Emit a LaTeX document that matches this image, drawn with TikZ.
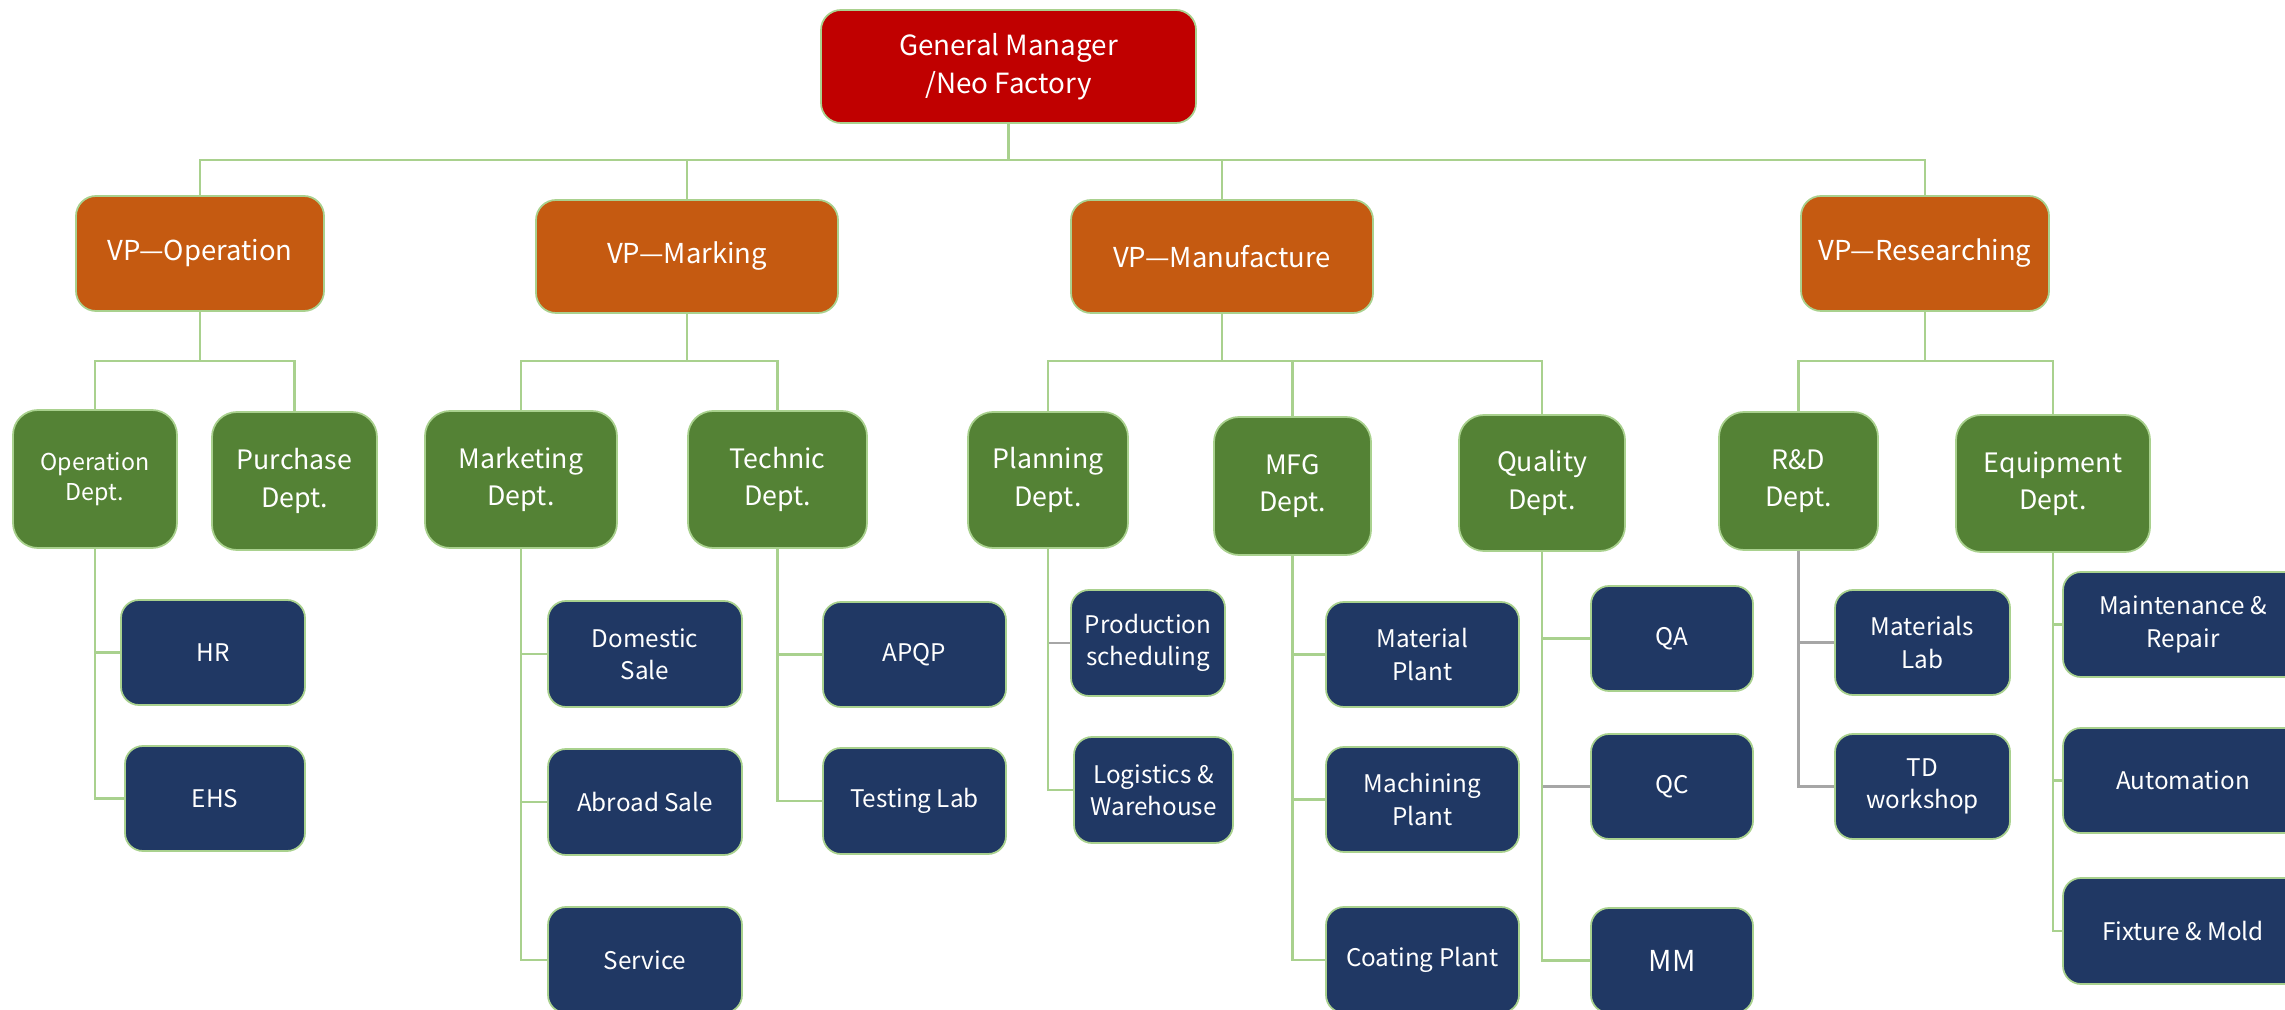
\documentclass[tikz,border=0pt]{standalone}
\usepackage{fontspec}
\setmainfont{Noto Sans CJK KR}
\definecolor{gmred}{HTML}{C00000}
\definecolor{vporange}{HTML}{C55A11}
\definecolor{deptgreen}{HTML}{548235}
\definecolor{leafnavy}{HTML}{203864}
\definecolor{linegreen}{HTML}{A9D18E}
\definecolor{linegray}{HTML}{A6A6A6}
\tikzset{
 box/.style={draw=linegreen, line width=0.5pt, text=white, align=center, inner sep=0pt, rounded corners=0.2cm},
 gmbox/.style={box, fill=gmred, font=\fontsize{7.9}{10.8}\selectfont},
 vpbox/.style={box, fill=vporange, font=\fontsize{7.8}{10.8}\selectfont},
 deptbox/.style={box, fill=deptgreen, rounded corners=0.25cm, font=\fontsize{7.6}{10.6}\selectfont},
 leafbox/.style={box, fill=leafnavy, rounded corners=0.18cm, font=\fontsize{6.9}{9.2}\selectfont},
 conn/.style={draw=linegreen, line width=0.6pt},
 conng/.style={draw=linegray, line width=0.6pt},
}
\newcommand\orgbox[6]{\node[#1, minimum width=#4*0.01cm, minimum height=#5*0.01cm] (#2) at (#3) {#6};}
\begin{document}
\begin{tikzpicture}[x=0.01cm,y=-0.01cm]
\useasboundingbox (0,0) rectangle (2285,1010);
\coordinate (busa) at (0,160);
\coordinate (busb) at (0,361);
% top
\orgbox{gmbox}{gm}{1008.5,66.5}{375}{113}{General Manager\\/Neo Factory}
% VPs
\orgbox{vpbox}{vpo}{200,253.5}{248}{115}{VP—Operation}
\orgbox{vpbox}{vpm}{687,256.5}{302}{113}{VP—Marking}
\orgbox{vpbox}{vpf}{1222,256.5}{302}{113}{VP—Manufacture}
\orgbox{vpbox}{vpr}{1925,253.5}{248}{115}{VP—Researching}
% departments
\orgbox{deptbox,font=\fontsize{6.6}{8.6}\selectfont}{opd}{95,479}{164}{138}{Operation\\Dept.}
\orgbox{deptbox}{pud}{294.5,481}{165}{138}{Purchase\\Dept.}
\orgbox{deptbox}{mkd}{521,479.5}{192}{137}{Marketing\\Dept.}
\orgbox{deptbox}{ted}{777.5,479.5}{179}{137}{Technic\\Dept.}
\orgbox{deptbox}{pld}{1048,480}{160}{136}{Planning\\Dept.}
\orgbox{deptbox}{mfd}{1292.5,486}{157}{138}{MFG\\Dept.}
\orgbox{deptbox}{qud}{1542,483}{166}{136}{Quality\\Dept.}
\orgbox{deptbox}{rdd}{1798.5,481}{159}{138}{R\&D\\Dept.}
\orgbox{deptbox}{eqd}{2053,483.5}{194}{137}{Equipment\\Dept.}
% leaves
\orgbox{leafbox}{hr}{213,652.5}{184}{105}{HR}
\orgbox{leafbox}{ehs}{215,798.5}{180}{105}{EHS}
\orgbox{leafbox}{dom}{645,654}{194}{106}{Domestic\\Sale}
\orgbox{leafbox}{abr}{645,802}{194}{106}{Abroad Sale}
\orgbox{leafbox}{ser}{645,960}{194}{106}{Service}
\orgbox{leafbox}{apqp}{914.5,654.5}{183}{105}{APQP}
\orgbox{leafbox}{tst}{914.5,801}{183}{106}{Testing Lab}
\orgbox{leafbox}{prs}{1148,643}{154}{106}{Production\\scheduling}
\orgbox{leafbox}{log}{1153.5,790}{159}{106}{Logistics \&\\Warehouse}
\orgbox{leafbox}{mat}{1422.5,654.5}{193}{105}{Material\\Plant}
\orgbox{leafbox}{mac}{1422.5,799.5}{193}{105}{Machining\\Plant}
\orgbox{leafbox}{coa}{1422.5,960}{193}{106}{Coating Plant}
\orgbox{leafbox}{qa}{1672,638.5}{162}{105}{QA}
\orgbox{leafbox}{qc}{1672,786.5}{162}{105}{QC}
\orgbox{leafbox,font=\fontsize{8.2}{10}\selectfont}{mm}{1672,960.5}{162}{105}{MM}
\orgbox{leafbox}{ml}{1922.5,642.5}{175}{105}{Materials\\Lab}
\orgbox{leafbox}{td}{1922.5,786.5}{175}{105}{TD\\workshop}
\orgbox{leafbox}{mr}{2183,624.5}{240}{105}{Maintenance \&\\Repair}
\orgbox{leafbox}{aut}{2183,780.5}{240}{105}{Automation}
\orgbox{leafbox}{fix}{2183,931}{240}{106}{Fixture \& Mold}
% connectors top level
\foreach \v in {vpo,vpm,vpf,vpr}
  \draw[conn] (gm.south) -- (gm.south |- busa) -| (\v.north);
% VP to departments
\foreach \v/\d in {vpo/opd,vpo/pud,vpm/mkd,vpm/ted,vpf/pld,vpf/mfd,vpf/qud,vpr/rdd,vpr/eqd}
  \draw[conn] (\v.south) -- (\v.south |- busb) -| (\d.north);
% departments to leaves
\draw[conng] (pld.south) |- (prs.west);
\draw[conng] (qud.south) |- (qc.west);
\draw[conng] (rdd.south) |- (ml.west);
\draw[conng] (rdd.south) |- (td.west);
\foreach \d/\l in {opd/hr,opd/ehs,mkd/dom,mkd/abr,mkd/ser,ted/apqp,ted/tst,pld/log,mfd/mat,mfd/mac,mfd/coa,qud/qa,qud/mm,eqd/mr,eqd/aut,eqd/fix}
  \draw[conn] (\d.south) |- (\l.west);
\end{tikzpicture}
\end{document}
